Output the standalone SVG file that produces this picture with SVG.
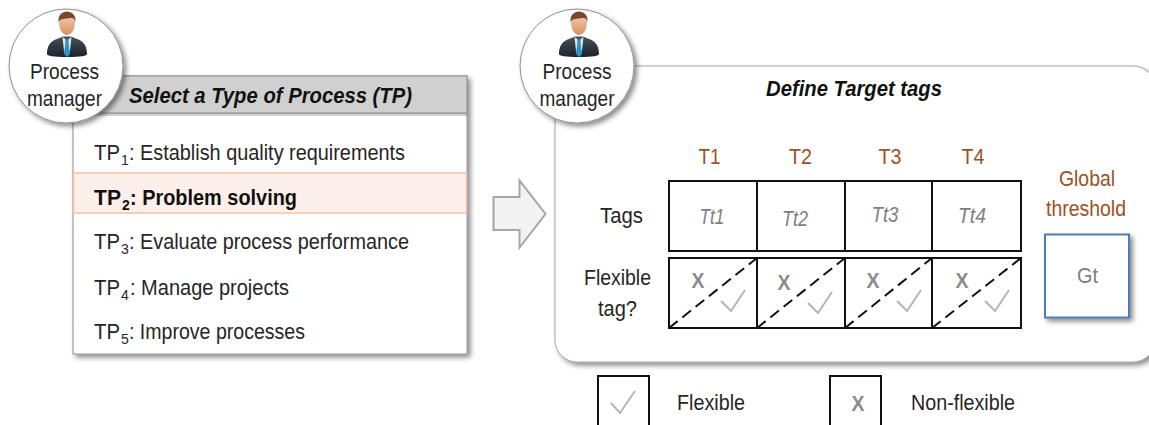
<svg xmlns="http://www.w3.org/2000/svg" width="1149" height="425" viewBox="0 0 1149 425">
<style>
text{font-family:"Liberation Sans",Arial,sans-serif;fill:#262626}
.pm{font-size:22px;text-anchor:middle}
.item{font-size:22px}
.sub{font-size:14px}
.head{font-size:22px;font-weight:bold;font-style:italic;fill:#111}
.tn{font-size:22px;fill:#9c5224;text-anchor:middle}
.tt{font-size:22px;font-style:italic;fill:#7f7f7f;text-anchor:middle}
.gt{font-size:22px;fill:#7f7f7f;text-anchor:middle}
.lb{font-size:22px;text-anchor:middle}
.cell{fill:#fff;stroke:#111;stroke-width:2}
.dash{stroke:#111;stroke-width:2;stroke-dasharray:11 6;fill:none}
.chk{fill:none;stroke:#b5b5b5;stroke-width:2}
.x{font-size:22px;font-weight:bold;fill:#8c8c8c;text-anchor:middle}
</style>
<defs>
<filter id="sh" x="-10%" y="-10%" width="125%" height="125%"><feDropShadow dx="3" dy="3" stdDeviation="2.500" flood-color="#000" flood-opacity="0.45"/></filter>
<linearGradient id="suit" x1="0" y1="0" x2="0" y2="1"><stop offset="0" stop-color="#45505c"/><stop offset="1" stop-color="#1c2229"/></linearGradient>
<linearGradient id="face" x1="0" y1="0" x2="0" y2="1"><stop offset="0" stop-color="#f6cfb2"/><stop offset="1" stop-color="#d98f62"/></linearGradient>
<symbol id="man" overflow="visible">
<path d="M-20 43C-20 34-16 30-10 28L-4 25.500H4L10 28C16 30 20 34 20 43C20 45 14 46 0 46C-14 46-20 45-20 43Z" fill="url(#suit)"/>
<path d="M-4.500 26L0 29L4.500 26L3 40L0 44L-3 40Z" fill="#e9e4de"/>
<path d="M-2 28H2L1.500 31L3 43L0 46L-3 43L-1.500 31Z" fill="#2a93d0"/>
<path d="M-8 11C-8 -1 8 -1 8 11C8 19 4 24 0 24C-4 24-8 19-8 11Z" fill="url(#face)"/>
<path d="M-8.500 11C-10 -3 10 -3 8.500 11C8 8 6 6.500 3 7C-2 8-6 7-8.500 11Z" fill="#7a4a2c"/>
</symbol>
</defs>

<g id="panel-select">
<rect x="73" y="76" width="394" height="278" fill="#fff" stroke="#8f8f8f" filter="url(#sh)"/>
<rect x="73" y="76" width="394" height="37" fill="#d0d0d0" stroke="#8f8f8f"/>
<rect x="74" y="113" width="393" height="3" fill="#000" opacity="0.18"/>
<text class="head" x="129" y="103" textLength="283" lengthAdjust="spacingAndGlyphs">Select a Type of Process (TP)</text>
<rect x="73.500" y="173" width="393" height="40" fill="#fdf0ea" stroke="#f4c3a3" stroke-width="1.500"/>
<text class="item"><tspan x="94" y="160" textLength="26" lengthAdjust="spacingAndGlyphs">TP</tspan><tspan class="sub" x="121" y="165">1</tspan><tspan x="129" y="160" textLength="276" lengthAdjust="spacingAndGlyphs">: Establish  quality  requirements</tspan></text>
<text class="item" font-weight="bold" style="fill:#111"><tspan x="94" y="205" textLength="27" lengthAdjust="spacingAndGlyphs">TP</tspan><tspan class="sub" x="122" y="210">2</tspan><tspan x="130" y="205" textLength="167" lengthAdjust="spacingAndGlyphs">: Problem solving</tspan></text>
<text class="item"><tspan x="94" y="249" textLength="26" lengthAdjust="spacingAndGlyphs">TP</tspan><tspan class="sub" x="121" y="254">3</tspan><tspan x="129" y="249" textLength="280" lengthAdjust="spacingAndGlyphs">: Evaluate  process  performance</tspan></text>
<text class="item"><tspan x="94" y="295" textLength="26" lengthAdjust="spacingAndGlyphs">TP</tspan><tspan class="sub" x="121" y="300">4</tspan><tspan x="130" y="295" textLength="159" lengthAdjust="spacingAndGlyphs">:  Manage projects</tspan></text>
<text class="item"><tspan x="94" y="339" textLength="26" lengthAdjust="spacingAndGlyphs">TP</tspan><tspan class="sub" x="121" y="344">5</tspan><tspan x="129" y="339" textLength="176" lengthAdjust="spacingAndGlyphs">: Improve  processes</tspan></text>
</g>

<g id="actor-left">
<circle cx="66" cy="66" r="57" fill="#fff" stroke="#8f8f8f" filter="url(#sh)"/>
<use href="#man" x="67" y="11"/>
<text class="pm" x="64.500" y="79" textLength="69" lengthAdjust="spacingAndGlyphs">Process</text>
<text class="pm" x="64.500" y="106" textLength="75" lengthAdjust="spacingAndGlyphs">manager</text>
</g>

<g id="connectors">
<path d="M493.500 197H519.500V180.500L545.500 214L519.500 247.500V230H493.500Z" fill="#f2f2f2" stroke="#a6a6a6" stroke-width="2"/>
</g>

<g id="panel-target">
<rect x="555" y="66" width="600" height="296" rx="22" fill="#fff" stroke="#a6a6a6" filter="url(#sh)"/>
<text class="head" x="766" y="96" textLength="176" lengthAdjust="spacingAndGlyphs">Define Target tags</text>
</g>

<g id="actor-right">
<circle cx="577" cy="66" r="57" fill="#fff" stroke="#8f8f8f" filter="url(#sh)"/>
<use href="#man" x="579" y="11"/>
<text class="pm" x="577" y="79" textLength="69" lengthAdjust="spacingAndGlyphs">Process</text>
<text class="pm" x="577" y="106" textLength="75" lengthAdjust="spacingAndGlyphs">manager</text>
</g>

<g id="tag-table">
<text class="tn" x="709.500" y="164" textLength="22" lengthAdjust="spacingAndGlyphs">T1</text>
<text class="tn" x="800.500" y="164" textLength="23" lengthAdjust="spacingAndGlyphs">T2</text>
<text class="tn" x="890" y="164" textLength="23" lengthAdjust="spacingAndGlyphs">T3</text>
<text class="tn" x="973" y="164" textLength="23" lengthAdjust="spacingAndGlyphs">T4</text>
<text class="lb" x="621.500" y="223" textLength="43" lengthAdjust="spacingAndGlyphs">Tags</text>
<text class="lb" x="617.500" y="285" textLength="67" lengthAdjust="spacingAndGlyphs">Flexible</text>
<text class="lb" x="617.500" y="316" textLength="39" lengthAdjust="spacingAndGlyphs">tag?</text>
<rect class="cell" x="669" y="181" width="88" height="70"/>
<rect class="cell" x="757" y="181" width="88" height="70"/>
<rect class="cell" x="845" y="181" width="87" height="70"/>
<rect class="cell" x="932" y="181" width="89" height="70"/>
<text class="tt" x="712" y="224" textLength="25" lengthAdjust="spacingAndGlyphs">Tt1</text>
<text class="tt" x="795" y="226" textLength="26" lengthAdjust="spacingAndGlyphs">Tt2</text>
<text class="tt" x="885" y="222" textLength="27" lengthAdjust="spacingAndGlyphs">Tt3</text>
<text class="tt" x="972" y="223" textLength="28" lengthAdjust="spacingAndGlyphs">Tt4</text>
<rect class="cell" x="669" y="258" width="88" height="70"/>
<rect class="cell" x="757" y="258" width="88" height="70"/>
<rect class="cell" x="845" y="258" width="87" height="70"/>
<rect class="cell" x="932" y="258" width="89" height="70"/>
<path class="dash" d="M669 328L757 258M757 328L845 258M845 328L932 258M932 328L1021 258"/>
<text class="x" x="698" y="288" textLength="13" lengthAdjust="spacingAndGlyphs">X</text>
<text class="x" x="784" y="290" textLength="13" lengthAdjust="spacingAndGlyphs">X</text>
<text class="x" x="873" y="288" textLength="13" lengthAdjust="spacingAndGlyphs">X</text>
<text class="x" x="962" y="288" textLength="13" lengthAdjust="spacingAndGlyphs">X</text>
<path class="chk" d="M721 301L731 311L745 290"/>
<path class="chk" d="M808 303L818 313L832 292"/>
<path class="chk" d="M897 301L907 311L921 290"/>
<path class="chk" d="M985 301L995 311L1009 290"/>
</g>

<g id="threshold">
<text class="tn" x="1087" y="186" textLength="56" lengthAdjust="spacingAndGlyphs">Global</text>
<text class="tn" x="1086" y="216" textLength="80" lengthAdjust="spacingAndGlyphs">threshold</text>
<rect x="1045" y="234.500" width="84" height="83" fill="#fff" stroke="#4a7ebb" stroke-width="2" filter="url(#sh)"/>
<text class="gt" x="1087.500" y="283" textLength="21" lengthAdjust="spacingAndGlyphs">Gt</text>
</g>

<g id="legend">
<rect class="cell" x="598" y="376" width="51" height="60"/>
<path class="chk" d="M611 403L620 413L635 391"/>
<text class="lb" x="711" y="410" textLength="68" lengthAdjust="spacingAndGlyphs">Flexible</text>
<rect class="cell" x="830" y="376" width="51" height="60"/>
<text class="x" x="858" y="411" textLength="13" lengthAdjust="spacingAndGlyphs">X</text>
<text class="lb" x="963" y="410" textLength="104" lengthAdjust="spacingAndGlyphs">Non-flexible</text>
</g>
</svg>
